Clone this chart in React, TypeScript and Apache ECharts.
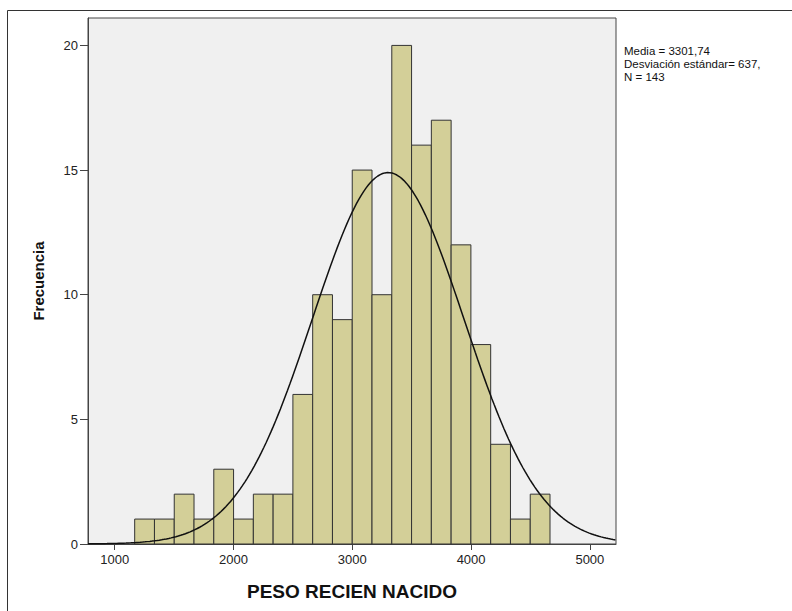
import React, { useEffect, useRef } from "react";
import * as echarts from "echarts";

const binStart = 1168;
const binWidth = 166.5;
const counts = [1, 1, 2, 1, 3, 1, 2, 2, 6, 10, 9, 15, 10, 20, 16, 17, 12, 8, 4, 1, 2];
const mean = 3301.74;
const sd = 637.5;
const n = 143;
const xTicks = [1000, 2000, 3000, 4000, 5000];
const yTicks = [0, 5, 10, 15, 20];
const statsLines = ["Media = 3301,74", "Desviación estándar= 637,", "N = 143"];

const FONT = "'Liberation Sans', Arial, sans-serif";

export default function App() {
  const ref = useRef<HTMLDivElement>(null);
  useEffect(() => {
    if (!ref.current) return;
    const chart = echarts.init(ref.current, undefined, { renderer: "svg" });
    const bins = counts.map((c, i) => [binStart + i * binWidth, binStart + (i + 1) * binWidth, c]);
    const curve: number[][] = [];
    for (let x = 775; x <= 5220; x += 20) {
      const z = (x - mean) / sd;
      curve.push([x, (n * binWidth) / (sd * Math.sqrt(2 * Math.PI)) * Math.exp(-0.5 * z * z)]);
    }
    chart.setOption({
      animation: false,
      textStyle: { fontFamily: FONT },
      grid: {
        left: 88,
        top: 18,
        right: 176,
        bottom: 67,
        show: true,
        backgroundColor: "#F0F0F0",
        borderColor: "#444",
        borderWidth: 1,
      },
      xAxis: {
        type: "value",
        min: 775,
        max: 5220,
        name: "PESO RECIEN NACIDO",
        nameLocation: "middle",
        nameGap: 38,
        nameTextStyle: { fontSize: 19, fontWeight: "bold", color: "#111", fontFamily: FONT },
        axisLine: { show: true, onZero: false, lineStyle: { color: "#444" } },
        axisTick: { show: true, length: 6, customValues: xTicks, lineStyle: { color: "#444" } },
        axisLabel: {
          customValues: xTicks,
          margin: 9,
          fontSize: 13,
          color: "#222",
          fontFamily: FONT,
          formatter: (v: number) => String(v),
        },
        splitLine: { show: false },
      },
      yAxis: {
        type: "value",
        min: 0,
        max: 21.1,
        name: "Frecuencia",
        nameLocation: "middle",
        nameGap: 42,
        nameTextStyle: { fontSize: 15, fontWeight: "bold", color: "#111", fontFamily: FONT },
        axisLine: { show: true, lineStyle: { color: "#444" } },
        axisTick: { show: true, length: 8, customValues: yTicks, lineStyle: { color: "#444" } },
        axisLabel: { customValues: yTicks, margin: 10, fontSize: 13, color: "#222", fontFamily: FONT },
        splitLine: { show: false },
      },
      series: [
        {
          type: "custom",
          data: bins,
          renderItem: (params: any, api: any) => {
            const p0 = api.coord([api.value(0), api.value(2)]);
            const p1 = api.coord([api.value(1), 0]);
            return {
              type: "rect",
              shape: { x: p0[0], y: p0[1], width: p1[0] - p0[0], height: p1[1] - p0[1] },
              style: { fill: "#D3CF98", stroke: "#333", lineWidth: 1 },
            };
          },
          encode: { x: [0, 1], y: 2 },
          z: 2,
        },
        {
          type: "line",
          data: curve,
          showSymbol: false,
          symbol: "none",
          smooth: false,
          lineStyle: { color: "#111", width: 1.5 },
          z: 3,
        },
      ],
      graphic: [
        {
          type: "rect",
          shape: { x: 7.5, y: 10.5, width: 800, height: 620 },
          style: { fill: "none", stroke: "#333", lineWidth: 1 },
          silent: true,
        },
        ...statsLines.map((t, i) => ({
          type: "text",
          x: 624,
          y: 45 + i * 13,
          style: {
            text: t,
            fontSize: 11.5,
            fill: "#111",
            fontFamily: FONT,
          },
        })),
      ],
    });
    return () => chart.dispose();
  }, []);
  return <div ref={ref} style={{ position: "fixed", left: 0, top: 0, width: 792, height: 611, background: "#fff" }} />;
}
